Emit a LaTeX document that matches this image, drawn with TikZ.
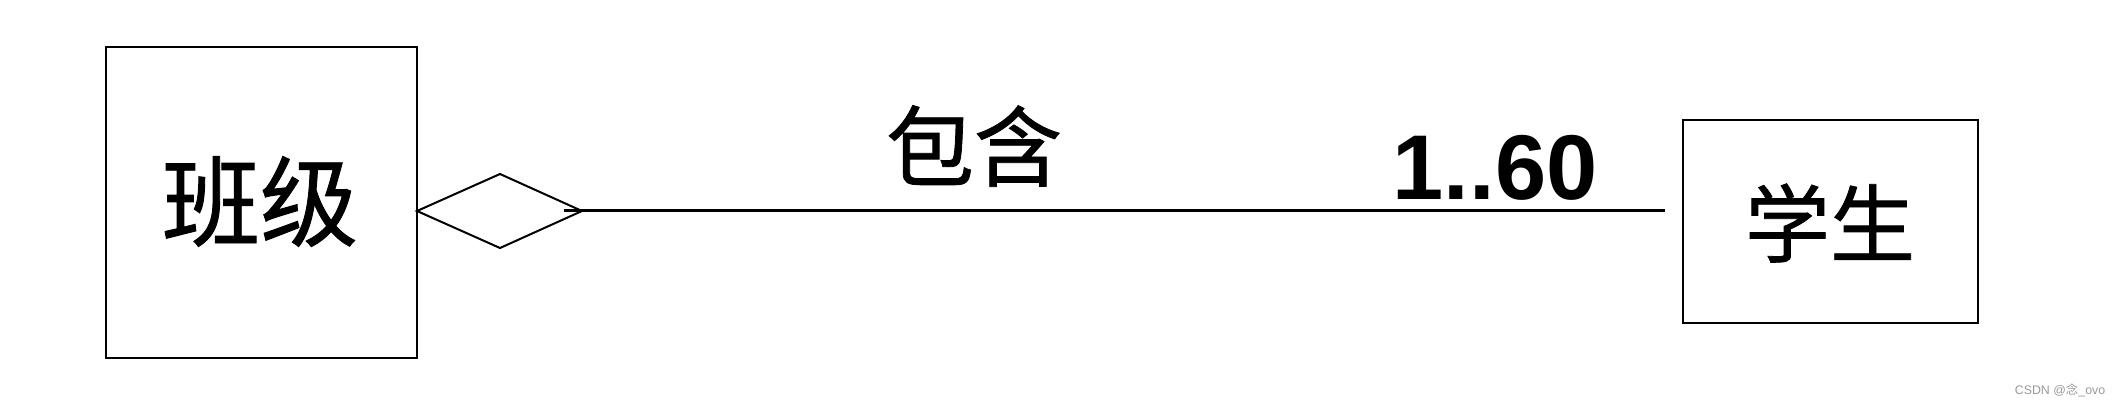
\documentclass[tikz,border=0pt]{standalone}
\usepackage{fontspec}
\setmainfont{Liberation Sans}
\newfontfamily\cjk{Noto Sans CJK SC}
\newfontfamily\cjkh[FakeBold=0.9]{Noto Sans CJK SC}
\begin{document}
\begin{tikzpicture}[x=0.5pt,y=-0.5pt,
  entity/.style={draw, line width=1.2pt, inner sep=0pt},
  aggdiamond/.style={draw, line width=1pt, line join=miter},
  link/.style={draw, line width=1.5pt},
  lbl/.style={inner sep=0pt}]
\useasboundingbox[fill=white] (0,0) rectangle (2119,406);
% entities
\node[entity, minimum width=155.5pt, minimum height=155.5pt] (cls) at (261.5,202.5) {};
\node[lbl, font=\cjkh\fontsize{49}{49}\selectfont] (clst) at (260,201.5) {班级};
\node[entity, minimum width=147.5pt, minimum height=101.5pt] (stu) at (1830.5,221.5) {};
\node[lbl, font=\cjkh\fontsize{42.5}{42.5}\selectfont] (stut) at (1830,223) {学生};
% aggregation diamond
\coordinate (dl) at (417,211);
\draw[aggdiamond] (dl) -- ++(83,-37) coordinate (dt) -- ++(82,37) coordinate (dr)
  -- ++(-82,37) coordinate (db) -- cycle;
% association line
\coordinate (ls) at (564,211);
\coordinate (le) at (1665,211);
\draw[link] (ls) -- (le);
% labels
\node[lbl, font=\cjkh\fontsize{44}{44}\selectfont] (role) at (974,146) {包含};
\node[lbl, anchor=base, font=\bfseries\fontsize{46}{46}\selectfont] (mult) at (1495,200) {1..60};
% watermark
\node[lbl, text=black!40, font=\fontsize{6.2}{6.2}\selectfont] (wm) at (2060,390) {CSDN @{\cjk 念}\_ovo};
\end{tikzpicture}
\end{document}
